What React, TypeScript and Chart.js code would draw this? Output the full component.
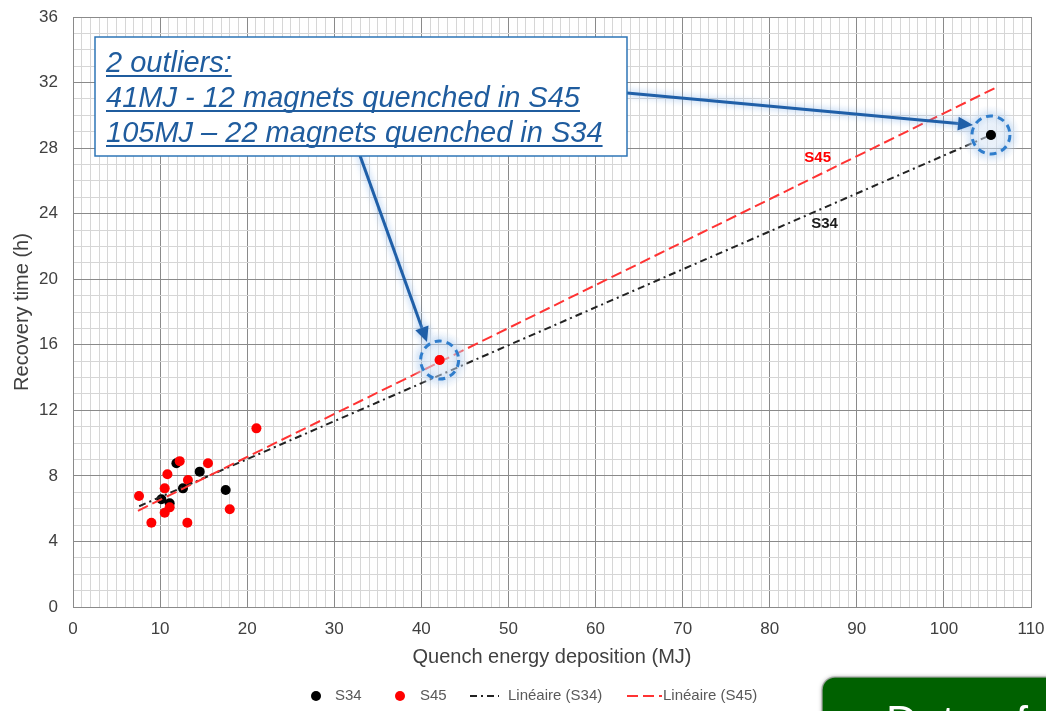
import React, { useEffect, useRef } from "react";
import { Chart, registerables } from "chart.js";

Chart.register(...registerables);

const FONT = '"Liberation Sans", Arial, Helvetica, sans-serif';

// ---- data ----
const s34X = [11.87, 14.55, 12.63, 17.53, 10.15, 11.1, 105.4];
const s34Y = [8.77, 8.26, 7.24, 7.14, 6.57, 6.33, 28.8];
const s45X = [21.06, 12.25, 15.5, 10.84, 13.2, 10.53, 7.58, 11.1, 10.53, 18.0, 9.0, 13.13, 42.1];
const s45Y = [10.9, 8.9, 8.77, 8.1, 7.75, 7.24, 6.77, 6.08, 5.75, 5.96, 5.14, 5.14, 15.07];
const trendS34X = [7.6, 105.4];
const trendS34Y = [6.15, 28.8];
const trendS45X = [7.46, 106.0];
const trendS45Y = [5.87, 31.7];
const outlierX = [42.1, 105.4];
const outlierY = [15.07, 28.8];
const trendLabelText = ["S45", "S34"];
const trendLabelX = [85.5, 86.3];
const trendLabelY = [27.4, 23.4];
const annotationLines = [
  "2 outliers:",
  "41MJ - 12 magnets quenched in S45",
  "105MJ \u2013 22 magnets quenched in S34",
];
const legendLabels = ["S34", "S45", "Lin\u00e9aire (S34)", "Lin\u00e9aire (S45)"];
const xTitle = "Quench energy deposition (MJ)";
const yTitle = "Recovery time (h)";
const cornerText = "Data of";

const toPts = (xs: number[], ys: number[]) => xs.map((x, i) => ({ x, y: ys[i] }));

function drawArrow(ctx: CanvasRenderingContext2D, x1: number, y1: number, x2: number, y2: number) {
  const ang = Math.atan2(y2 - y1, x2 - x1);
  const headLen = 15;
  const headW = 7;
  const bx = x2 - headLen * Math.cos(ang);
  const by = y2 - headLen * Math.sin(ang);
  ctx.beginPath();
  ctx.moveTo(x1, y1);
  ctx.lineTo(bx, by);
  ctx.stroke();
  ctx.beginPath();
  ctx.moveTo(x2, y2);
  ctx.lineTo(bx + headW * Math.sin(ang), by - headW * Math.cos(ang));
  ctx.lineTo(bx - headW * Math.sin(ang), by + headW * Math.cos(ang));
  ctx.closePath();
  ctx.fill();
}

const overlayPlugin = {
  id: "overlay",
  afterDatasetsDraw(chart: any) {
    const ctx: CanvasRenderingContext2D = chart.ctx;
    const xs = chart.scales.x;
    const ys = chart.scales.y;

    // trendline labels
    ctx.save();
    ctx.font = `bold 15px ${FONT}`;
    ctx.textAlign = "center";
    ctx.textBaseline = "middle";
    trendLabelText.forEach((t, i) => {
      ctx.fillStyle = i === 0 ? "#ff0000" : "#1a1a1a";
      ctx.fillText(t, xs.getPixelForValue(trendLabelX[i]), ys.getPixelForValue(trendLabelY[i]));
    });
    ctx.restore();

    // dashed circles around outliers
    outlierX.forEach((ox, i) => {
      const cx = xs.getPixelForValue(ox);
      const cy = ys.getPixelForValue(outlierY[i]);
      ctx.save();
      const g = ctx.createRadialGradient(cx, cy, 4, cx, cy, 30);
      g.addColorStop(0, "rgba(214,228,245,0.55)");
      g.addColorStop(0.7, "rgba(214,228,245,0.45)");
      g.addColorStop(1, "rgba(214,228,245,0)");
      ctx.fillStyle = g;
      ctx.beginPath();
      ctx.arc(cx, cy, 30, 0, Math.PI * 2);
      ctx.fill();
      ctx.restore();
      ctx.save();
      ctx.fillStyle = i === 0 ? "#ff0000" : "#000000";
      ctx.beginPath();
      ctx.arc(cx, cy, 5, 0, Math.PI * 2);
      ctx.fill();
      ctx.strokeStyle = "#2f7dcc";
      ctx.lineWidth = 3;
      ctx.setLineDash([7, 5]);
      ctx.shadowColor = "rgba(100,160,225,0.7)";
      ctx.shadowBlur = 6;
      ctx.beginPath();
      ctx.arc(cx, cy, 19, 0, Math.PI * 2);
      ctx.stroke();
      ctx.restore();
    });

    // arrows
    ctx.save();
    ctx.strokeStyle = "#1f5fa8";
    ctx.fillStyle = "#1f5fa8";
    ctx.lineWidth = 3;
    ctx.shadowColor = "rgba(110,165,230,0.8)";
    ctx.shadowBlur = 7;
    drawArrow(ctx, 627, 93, 973, 125);
    drawArrow(ctx, 358, 150, 427, 342);
    ctx.restore();

    // annotation box
    ctx.save();
    ctx.fillStyle = "#ffffff";
    ctx.fillRect(95, 37, 532, 119);
    ctx.strokeStyle = "#2e75b6";
    ctx.lineWidth = 1.5;
    ctx.strokeRect(95, 37, 532, 119);
    ctx.font = `italic 29px ${FONT}`;
    ctx.fillStyle = "#1f5c9e";
    ctx.textAlign = "left";
    ctx.textBaseline = "alphabetic";
    annotationLines.forEach((line, i) => {
      const by = 72 + i * 35;
      ctx.fillText(line, 106, by);
      const w = ctx.measureText(line).width;
      ctx.fillRect(106, by + 3, w, 2);
    });
    ctx.restore();
  },
  afterDraw(chart: any) {
    const ctx: CanvasRenderingContext2D = chart.ctx;
    const ly = 696;
    ctx.save();
    ctx.font = `15px ${FONT}`;
    ctx.textBaseline = "middle";
    ctx.textAlign = "left";
    ctx.fillStyle = "#000";
    ctx.beginPath();
    ctx.arc(316, ly, 5, 0, Math.PI * 2);
    ctx.fill();
    ctx.fillStyle = "#595959";
    ctx.fillText(legendLabels[0], 335, ly);
    ctx.fillStyle = "#ff0000";
    ctx.beginPath();
    ctx.arc(400, ly, 5, 0, Math.PI * 2);
    ctx.fill();
    ctx.fillStyle = "#595959";
    ctx.fillText(legendLabels[1], 420, ly);
    ctx.strokeStyle = "#222";
    ctx.lineWidth = 2;
    ctx.setLineDash([7, 4, 2, 4]);
    ctx.beginPath();
    ctx.moveTo(470, ly);
    ctx.lineTo(499, ly);
    ctx.stroke();
    ctx.fillText(legendLabels[2], 508, ly);
    ctx.strokeStyle = "#ff3333";
    ctx.setLineDash([11, 5]);
    ctx.beginPath();
    ctx.moveTo(627, ly);
    ctx.lineTo(662, ly);
    ctx.stroke();
    ctx.setLineDash([]);
    ctx.fillText(legendLabels[3], 663, ly);
    ctx.restore();

    // corner green box
    ctx.save();
    ctx.shadowColor = "rgba(0,0,0,0.35)";
    ctx.shadowBlur = 4;
    ctx.fillStyle = "#006100";
    ctx.beginPath();
    (ctx as any).roundRect(822, 677, 260, 80, 13);
    ctx.fill();
    ctx.shadowBlur = 0;
    ctx.strokeStyle = "rgba(170,170,170,0.8)";
    ctx.lineWidth = 1.5;
    ctx.stroke();
    ctx.fillStyle = "#ffffff";
    ctx.font = `44px ${FONT}`;
    ctx.textBaseline = "alphabetic";
    ctx.fillText(cornerText, 886, 737);
    ctx.restore();
  },
};

export default function App() {
  const ref = useRef<HTMLCanvasElement | null>(null);
  useEffect(() => {
    if (!ref.current) return;
    const chart = new Chart(ref.current, {
      type: "scatter",
      data: {
        datasets: [
          {
            label: legendLabels[3],
            data: toPts(trendS45X, trendS45Y),
            showLine: true,
            borderColor: "#ff3333",
            borderWidth: 2,
            borderDash: [11, 5],
            pointRadius: 0,
            fill: false,
          } as any,
          {
            label: legendLabels[2],
            data: toPts(trendS34X, trendS34Y),
            showLine: true,
            borderColor: "#222222",
            borderWidth: 2,
            borderDash: [7, 4, 2, 4],
            pointRadius: 0,
            fill: false,
          },
          {
            label: legendLabels[1],
            data: toPts(s45X, s45Y),
            backgroundColor: "#ff0000",
            borderColor: "#ff0000",
            pointRadius: 5,
            pointBorderWidth: 0,
          },
          {
            label: legendLabels[0],
            data: toPts(s34X, s34Y),
            backgroundColor: "#000000",
            borderColor: "#000000",
            pointRadius: 5,
            pointBorderWidth: 0,
          },
        ],
      },
      options: {
        responsive: false,
        animation: false,
        layout: { padding: { top: 17, right: 15, bottom: 0, left: 0 } },
        plugins: {
          legend: { display: false },
          tooltip: { enabled: false },
        },
        scales: {
          x: {
            type: "linear",
            min: 0,
            max: 110,
            afterFit: (s: any) => {
              s.height = 104;
              s.paddingLeft = 0;
              s.paddingRight = 0;
            },
            ticks: {
              stepSize: 1,
              autoSkip: false,
              maxRotation: 0,
              padding: 12,
              color: "#404040",
              font: { size: 17, family: FONT },
              callback: (v: any) => (Number(v) % 10 === 0 ? String(v) : ""),
            },
            grid: {
              drawTicks: false,
              lineWidth: 1,
              color: (c: any) => (c.tick && c.tick.value % 10 === 0 ? "#8a8a8a" : "#d6d6d6"),
            },
            border: { display: true, color: "#8a8a8a" },
            title: {
              display: true,
              text: xTitle,
              color: "#404040",
              font: { size: 20, family: FONT },
              padding: { top: 0, bottom: 42 },
            },
          },
          y: {
            type: "linear",
            min: 0,
            max: 36,
            afterFit: (s: any) => {
              s.width = 73;
              s.paddingTop = 0;
              s.paddingBottom = 0;
            },
            ticks: {
              stepSize: 1,
              autoSkip: false,
              padding: 15,
              color: "#404040",
              font: { size: 17, family: FONT },
              callback: (v: any) => (Number(v) % 4 === 0 ? String(v) : ""),
            },
            grid: {
              drawTicks: false,
              lineWidth: 1,
              color: (c: any) => (c.tick && c.tick.value % 4 === 0 ? "#8a8a8a" : "#d6d6d6"),
            },
            border: { display: true, color: "#8a8a8a" },
            title: {
              display: true,
              text: yTitle,
              color: "#404040",
              font: { size: 20, family: FONT },
              padding: { top: 10, bottom: 0 },
            },
          },
        },
      },
      plugins: [overlayPlugin],
    });
    return () => chart.destroy();
  }, []);

  return (
    <div
      style={{
        position: "fixed",
        left: 0,
        top: 0,
        width: 1046,
        height: 711,
        background: "#ffffff",
        overflow: "hidden",
      }}
    >
      <canvas ref={ref} width={1046} height={711} />
    </div>
  );
}
